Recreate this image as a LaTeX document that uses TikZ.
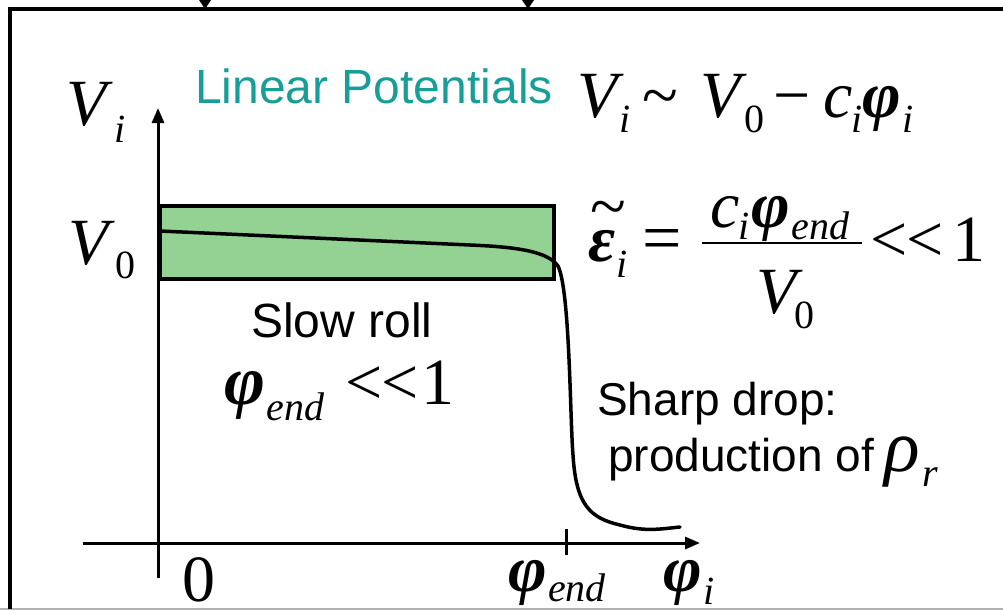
\documentclass[tikz,border=0pt]{standalone}
\usepackage{fontspec}
\setmainfont{Liberation Serif}
\newfontfamily\arialf{Liberation Sans}
\usetikzlibrary{arrows.meta}
\definecolor{teal1}{RGB}{24,158,152}
\definecolor{boxgreen}{RGB}{148,210,148}
\newcommand{\lessless}{<\kern-1pt<}
\begin{document}
\begin{tikzpicture}[x=1pt,y=-1pt,
  m/.style={anchor=base west, inner sep=0pt, font=\fontsize{66}{66}\selectfont\itshape},
  mb/.style={anchor=base west, inner sep=0pt, font=\fontsize{66}{66}\selectfont\bfseries\itshape},
  mu/.style={anchor=base west, inner sep=0pt, font=\fontsize{66}{66}\selectfont},
  sb/.style={anchor=base west, inner sep=0pt, font=\fontsize{40}{40}\selectfont\itshape},
  su/.style={anchor=base west, inner sep=0pt, font=\fontsize{40}{40}\selectfont},
  lbl/.style={anchor=base west, inner sep=0pt, font=\arialf\fontsize{46}{46}\selectfont},
  axisline/.style={line width=3pt, -{Triangle[length=15pt,width=12pt]}},
  frameline/.style={line width=4pt},
]
\useasboundingbox (0,0) rectangle (1003,614);
% frame
\draw[gray!60, line width=1.5pt] (0,609) -- (1003,609);
\draw[frameline] (10,609) -- (10,9) -- (1003,9);
\fill (199,0) -- (211,0) -- (205,9) -- cycle;
\fill (522,0) -- (534,0) -- (528,9) -- cycle;
% box
\draw[fill=boxgreen, line width=4pt] (160,206) rectangle (554,279);
% axes
\coordinate (ybot) at (158,578);
\coordinate (ytop) at (158,108);
\coordinate (xl) at (83,543);
\coordinate (xr) at (700,543);
\draw[axisline] (ybot) -- (ytop);
\draw[axisline] (xl) -- (xr);
\coordinate (t1) at (566,529);
\coordinate (t2) at (566,555);
\draw[line width=3pt] (t1) -- (t2);
% curve
\draw[line width=3.5pt, line cap=round] (160,231) -- (470,245)
  .. controls (520,247) and (548,252) .. (558,266)
  .. controls (570,290) and (570,420) .. (573,455)
  .. controls (576,505) and (590,518) .. (620,525)
  .. controls (645,532) and (660,529) .. (680,527);
% left labels
\node[m] (Vi) at (66,125) {V};
\node[sb] (Visub) at (114,142) {i};
\node[m] (V0) at (68,264) {V};
\node[su] (V0sub) at (115,278) {0};
% title
\node[lbl, text=teal1, font=\arialf\fontsize{48}{48}\selectfont] (title) at (195,103) {Linear Potentials};
% top formula
\node[m] (fV) at (577,117) {V};
\node[sb] (fVi) at (619,132) {i};
\node[mu] (fsim) at (642,117) {\textasciitilde};
\node[m] (fV0) at (700,117) {V};
\node[su] (fV0s) at (744,132) {0};
\node[mu] (fminus) at (773,117) {−};
\node[m] (fc) at (823,117) {c};
\node[sb] (fci) at ([xshift=-1pt,yshift=-15pt]fc.base east) {i};
\node[mb] (fphi) at ([xshift=-1pt,yshift=15pt]fci.base east) {φ};
\node[sb] (fphii) at ([xshift=1pt,yshift=-15pt]fphi.base east) {i};
% epsilon formula
\node[mu, anchor=center] (etil) at (608,215) {\textasciitilde};
\node[mb] (eps) at (588,261) {ε};
\node[sb] (epsi) at ([xshift=1pt,yshift=-16pt]eps.base east) {i};
\node[mu, font=\fontsize{70}{70}\selectfont] (eeq) at (642,261) {=};
\draw[line width=2.5pt] (702,243) -- (862,243);
\node[m] (nc) at (710,227) {c};
\node[sb] (nci) at ([xshift=-1pt,yshift=-12pt]nc.base east) {i};
\node[mb] (nphi) at ([xshift=1pt,yshift=12pt]nci.base east) {φ};
\node[sb] (nend) at ([xshift=1pt,yshift=-12pt]nphi.base east) {end};
\node[m] (dV) at (756,313) {V};
\node[su] (dV0) at ([xshift=-2pt,yshift=-15pt]dV.base east) {0};
\node[mu] (ell) at (870,261) {\lessless};
\node[mu] (eone) at (952,261) {1};
% slow roll
\node[lbl, anchor=base, font=\arialf\fontsize{48}{48}\selectfont] (slow) at (342,337) {Slow roll};
\node[mb, font=\fontsize{70}{70}\selectfont\bfseries\itshape] (sphi) at (224,404) {φ};
\node[sb] (send) at ([xshift=1pt,yshift=-16pt]sphi.base east) {end};
\node[mu] (sll) at (345,404) {\lessless};
\node[mu] (sone) at (421,404) {1};
% sharp drop
\node[lbl] (sharp) at (597,415) {Sharp drop:};
\node[lbl] (prod) at (608,471) {production of};
\node[m, font=\fontsize{74}{74}\selectfont\itshape] (rho) at (884,471) {ρ};
\node[sb] (rhor) at ([xshift=2pt,yshift=-15pt]rho.base east) {r};
% bottom axis labels
\node[mu] (zero) at (182,601) {0};
\node[mb] (bphi) at (508,591) {φ};
\node[sb] (bend) at ([xshift=1pt,yshift=-10pt]bphi.base east) {end};
\node[mb] (bphii) at (663,591) {φ};
\node[sb] (bphiis) at ([xshift=1pt,yshift=-13pt]bphii.base east) {i};
\end{tikzpicture}
\end{document}
